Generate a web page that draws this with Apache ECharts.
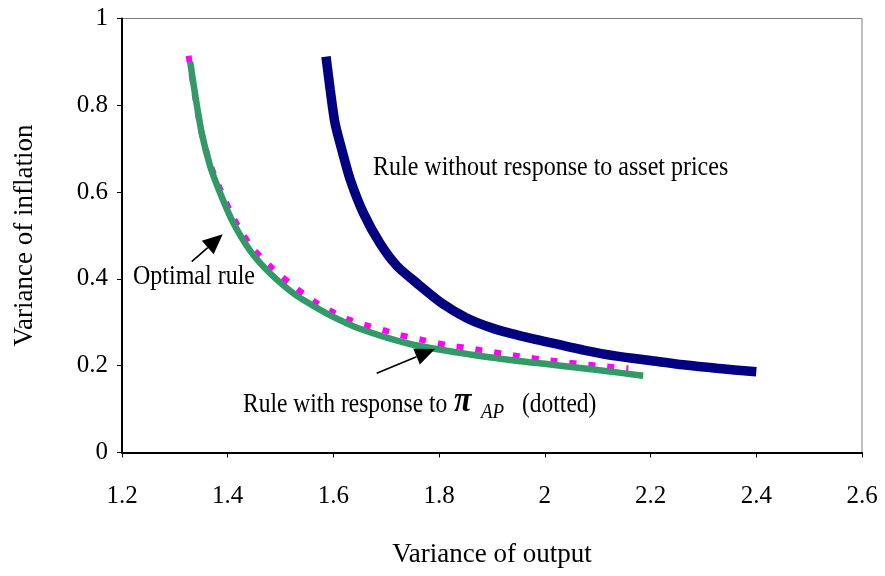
<!DOCTYPE html>
<html><head><meta charset="utf-8">
<script src="https://cdn.jsdelivr.net/npm/echarts@6/dist/echarts.min.js"></script>
<style>html,body{margin:0;padding:0;background:#fff}#c{width:885px;height:576px}</style>
</head><body><div id="c"></div>
<script>
// ---- data ----
const xTickLabels = ['1.2','1.4','1.6','1.8','2','2.2','2.4','2.6'];
const yTickLabels = ['0','0.2','0.4','0.6','0.8','1'];

// Rule without response to asset prices
const noRespX = [1.586, 1.594, 1.603, 1.616, 1.632, 1.657, 1.688, 1.72, 1.758, 1.805, 1.852, 1.902, 1.947, 2.01, 2.073, 2.136, 2.199, 2.262, 2.325, 2.40];
const noRespY = [0.912, 0.835, 0.759, 0.697, 0.628, 0.551, 0.482, 0.43, 0.39, 0.344, 0.31, 0.286, 0.271, 0.253, 0.236, 0.222, 0.212, 0.202, 0.194, 0.186];

// Optimal rule
const optX = [1.329, 1.339, 1.351, 1.367, 1.386, 1.411, 1.443, 1.48, 1.524, 1.556, 1.594, 1.65, 1.745, 1.858, 1.95, 2.01, 2.1, 2.186];
const optY = [0.90, 0.82, 0.735, 0.659, 0.597, 0.528, 0.464, 0.413, 0.367, 0.342, 0.316, 0.285, 0.250, 0.226, 0.211, 0.203, 0.19, 0.177];

// Rule with response to pi_AP (dotted)
const apX = [1.326, 1.337, 1.349, 1.366, 1.386, 1.412, 1.445, 1.485, 1.53, 1.569, 1.603, 1.632, 1.66, 1.695, 1.726, 1.77, 1.814, 1.858, 1.95, 2.01, 2.1, 2.158];
const apY = [0.914, 0.83, 0.745, 0.668, 0.606, 0.538, 0.474, 0.424, 0.378, 0.344, 0.321, 0.305, 0.294, 0.282, 0.271, 0.259, 0.248, 0.240, 0.222, 0.212, 0.2, 0.194];

const zip = (xs, ys) => xs.map((x, i) => [x, ys[i]]);
const FONT = '"Liberation Serif", "Times New Roman", serif';

function arrow(tail, tip, len, half) {
  const dx = tip[0] - tail[0], dy = tip[1] - tail[1];
  const d = Math.hypot(dx, dy), ux = dx / d, uy = dy / d;
  const bx = tip[0] - ux * len, by = tip[1] - uy * len;
  return [
    { type: 'line', shape: { x1: tail[0], y1: tail[1], x2: bx, y2: by }, style: { stroke: '#000', lineWidth: 1.6 }, z: 100 },
    { type: 'polygon', shape: { points: [tip, [bx - uy * half, by + ux * half], [bx + uy * half, by - ux * half]] }, style: { fill: '#000' }, z: 100 }
  ];
}
function label(text, x, y, font) {
  return { type: 'text', x: x, y: y, scaleY: 1.15, z: 100,
    style: { text: text, font: font, fill: '#000', verticalAlign: 'middle', align: 'left' } };
}

const chart = echarts.init(document.getElementById('c'), null, { renderer: 'canvas' });
chart.setOption({
  animation: false,
  backgroundColor: '#fff',
  grid: { left: 122, right: 23, top: 18.5, bottom: 123.5, show: true, borderColor: '#808080', borderWidth: 1, backgroundColor: 'transparent' },
  xAxis: {
    type: 'value', min: 1.2, max: 2.6, interval: 0.2,
    name: 'Variance of output', nameLocation: 'middle', nameGap: 89,
    nameTextStyle: { fontFamily: FONT, fontSize: 27, color: '#000' },
    axisLine: { show: true, onZero: false, lineStyle: { color: '#000', width: 2 } },
    axisTick: { show: true, inside: false, length: 5, lineStyle: { color: '#000', width: 1 } },
    axisLabel: { margin: 31, fontFamily: FONT, fontSize: 25, color: '#000',
      formatter: v => xTickLabels[Math.round((v - 1.2) / 0.2)] },
    splitLine: { show: false }
  },
  yAxis: {
    type: 'value', min: 0, max: 1, interval: 0.2,
    name: 'Variance of inflation', nameLocation: 'middle', nameGap: 84,
    nameTextStyle: { fontFamily: FONT, fontSize: 27, color: '#000' },
    axisLine: { show: true, onZero: false, lineStyle: { color: '#000', width: 2 } },
    axisTick: { show: true, inside: false, length: 5, lineStyle: { color: '#000', width: 1 } },
    axisLabel: { margin: 14, fontFamily: FONT, fontSize: 25, color: '#000',
      formatter: v => yTickLabels[Math.round(v / 0.2)] },
    splitLine: { show: false }
  },
  series: [
    { type: 'line', name: 'Rule with response to pi_AP', data: zip(apX, apY), showSymbol: false, smooth: 0.25,
      lineStyle: { color: '#FF00FF', width: 6, type: [7, 12], cap: 'butt' }, z: 2 },
    { type: 'line', name: 'Optimal rule', data: zip(optX, optY), showSymbol: false, smooth: 0.25,
      lineStyle: { color: '#339966', width: 6.5 }, z: 3 },
    { type: 'line', name: 'Rule without response to asset prices', data: zip(noRespX, noRespY), showSymbol: false, smooth: 0.25,
      lineStyle: { color: '#000080', width: 9.5 }, z: 4 }
  ],
  graphic: [
    label('Rule without response to asset prices', 373, 168, '24px ' + FONT),
    label('Optimal rule', 133, 277, '24px ' + FONT),
    label('Rule with response to', 243, 405, '23.5px ' + FONT),
    label('π', 454, 401, 'italic bold 32px ' + FONT),
    label('AP', 481, 412, 'italic 19px ' + FONT),
    label('(dotted)', 522, 405, '23.5px ' + FONT),
    ...arrow([191.7, 261.7], [222.7, 234.3], 20, 9),
    ...arrow([376.7, 373.3], [435, 349], 20, 8.5)
  ]
});
</script>
</body></html>
